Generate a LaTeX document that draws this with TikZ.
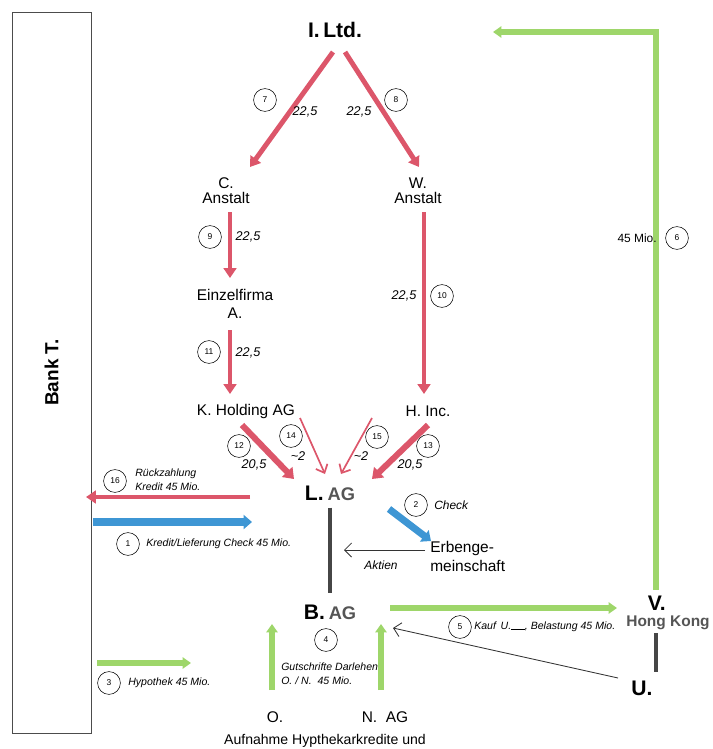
\documentclass[tikz,border=0pt]{standalone}
\usepackage{fontspec}
\setmainfont{Liberation Sans}
\usetikzlibrary{arrows.meta}
\definecolor{flowred}{RGB}{220,86,106}
\definecolor{flowblue}{RGB}{62,150,212}
\definecolor{flowgreen}{RGB}{158,214,106}
\definecolor{bargray}{RGB}{70,70,70}
\definecolor{namegray}{RGB}{85,85,85}

\begin{document}
\begin{tikzpicture}[x=0.025cm, y=-0.025cm, every node/.style={inner sep=0pt}]
% Define styles
\tikzstyle{firm} = [align=center, font=\fontsize{11}{13}\selectfont]
\tikzstyle{bigfirm} = [font=\fontsize{13.5}{15}\bfseries\selectfont]
\tikzstyle{num} = [circle, draw=black, line width=0.4pt, minimum size=0.57cm, font=\fontsize{6}{6}\selectfont]
\tikzstyle{amount} = [font=\fontsize{9}{10}\itshape\selectfont]
\tikzstyle{note} = [anchor=west, align=left, font=\fontsize{7.5}{10}\itshape\selectfont]
\tikzstyle{redflow} = [draw=flowred, line width=3.5pt, -{Triangle[length=7pt,width=9pt]}]
\tikzstyle{redthick} = [draw=flowred, line width=4.3pt, -{Triangle[length=7pt,width=10pt]}]
\tikzstyle{redthin} = [draw=flowred, line width=1.2pt, -{Straight Barb[length=5pt,width=9pt]}]
\tikzstyle{blueflow} = [draw=flowblue, line width=5pt, -{Triangle[length=6pt,width=10pt]}]
\tikzstyle{greenflow} = [draw=flowgreen, line width=3.6pt, -{Triangle[length=6pt,width=8pt]}]
\tikzstyle{thinarrow} = [draw=black!80, line width=0.6pt, -{Straight Barb[length=5pt,width=10pt]}]
\tikzstyle{bar} = [draw=bargray, line width=3.5pt]
\useasboundingbox (0,0) rectangle (712,749);
% Place nodes
\node (bank) [draw=black!70, line width=0.5pt, rotate=90, minimum width=18.025cm, minimum height=1.975cm, bigfirm] at (51.5,372.5) {Bank T.};
\node (iltd) [bigfirm, font=\fontsize{15}{16}\bfseries\selectfont] at (335,30) {I.\,Ltd.};
\node (canst) [firm, font=\fontsize{11}{10.5}\selectfont] at (226,191) {C.\\Anstalt};
\node (wanst) [firm, font=\fontsize{11}{10.5}\selectfont] at (418,191) {W.\\Anstalt};
\node (einzel) [firm] at (235,304) {Einzelfirma\\A.};
\node (kholding) [firm] at (246,411) {K. Holding AG};
\node (hinc) [firm] at (428,411) {H. Inc.};
\node (lag) at (330,493) {{\fontsize{15}{16}\bfseries L.} {\fontsize{13}{14}\bfseries\color{namegray}AG}};
\node (erbe) [firm, align=left, anchor=west, font=\fontsize{11}{13.5}\selectfont] at (430,556) {Erbenge-\\meinschaft};
\node (bag) at (330,612) {{\fontsize{15}{16}\bfseries B.} {\fontsize{13}{14}\bfseries\color{namegray}AG}};
\node (vhk) [align=center] at (668,613) {{\fontsize{15}{16}\bfseries V.}\hspace*{16pt}\\[-1pt]{\fontsize{11}{13}\bfseries\color{namegray}Hong Kong}};
\node (u) [bigfirm, font=\fontsize{15}{16}\bfseries\selectfont] at (642,688) {U.};
\node (o) [firm] at (275,717) {O.};
\node (nag) [firm] at (385,717) {N.\ \ AG};
\node (aufnahme) [firm, font=\fontsize{10}{12}\selectfont] at (325,741) {Aufnahme Hypthekarkredite und};
% Arrow ends
\coordinate (i7) at (333,52);  \coordinate (c7) at (250,167);
\coordinate (i8) at (345,52);  \coordinate (w8) at (419,167);
\coordinate (c9) at (230,212); \coordinate (e9) at (230,278);
\coordinate (e11) at (230,330); \coordinate (k11) at (230,394);
\coordinate (w10) at (424,212); \coordinate (h10) at (424,394);
\coordinate (k12) at (242,425); \coordinate (l12) at (294,479);
\coordinate (k14) at (300,418); \coordinate (l14) at (325,474);
\coordinate (h15) at (372,418); \coordinate (l15) at (341,474);
\coordinate (h13) at (428,425); \coordinate (l13) at (372,479);
\coordinate (l16) at (250,497); \coordinate (b16) at (86,497);
\coordinate (b1) at (93,522);  \coordinate (l1) at (252,522);
\coordinate (l2) at (389,509); \coordinate (e2) at (431,541);
\coordinate (e0) at (425,550); \coordinate (l0) at (344,550);
\coordinate (b5) at (390,608); \coordinate (v5) at (617,608);
\coordinate (v6) at (656,590); \coordinate (i6) at (493,32);
\coordinate (v7) at (656,633); \coordinate (u7) at (656,672);
\coordinate (u0) at (618,678); \coordinate (b0) at (393,628);
\coordinate (o4) at (272,690); \coordinate (bo4) at (272,624);
\coordinate (n4) at (381,690); \coordinate (bn4) at (381,624);
\coordinate (b3) at (97,663);  \coordinate (k3) at (191,663);
% Draw arrows
\draw [redflow] (i7) -- (c7);
\draw [redflow] (i8) -- (w8);
\draw [redflow] (c9) -- (e9);
\draw [redflow] (e11) -- (k11);
\draw [redflow] (w10) -- (h10);
\draw [redthick] (k12) -- (l12);
\draw [redthin] (k14) -- (l14);
\draw [redthin] (h15) -- (l15);
\draw [redthick] (h13) -- (l13);
\draw [redflow] (l16) -- (b16);
\draw [blueflow] (b1) -- (l1);
\draw [blueflow] (l2) -- (e2);
\draw [thinarrow] (e0) -- (l0);
\draw [bar, shorten <=5pt, shorten >=8pt] (lag) -- (bag);
\draw [bar] (v7) -- (u7);
\draw [greenflow] (b5) -- (v5);
\draw [greenflow] (v6) |- (i6);
\draw [thinarrow] (u0) -- (b0);
\draw [greenflow] (o4) -- (bo4);
\draw [greenflow] (n4) -- (bn4);
\draw [greenflow] (b3) -- (k3);
% Labels
\node [num] at (265,100) {7};   \node [amount] at (305,112) {22,5};
\node [num] at (396,100) {8};   \node [amount] at (359,112) {22,5};
\node [num] at (210,237) {9};   \node [amount] at (248,237) {22,5};
\node [num] at (209,352) {11};  \node [amount] at (248,353) {22,5};
\node [num] at (442,296) {10};  \node [amount] at (404,296) {22,5};
\node [num] at (239,446) {12};  \node [amount] at (254,465) {20,5};
\node [num] at (291,436) {14};  \node [amount] at (298,456) {\textasciitilde2};
\node [num] at (377,437) {15};  \node [amount] at (361,456) {\textasciitilde2};
\node [num] at (428,446) {13};  \node [amount] at (410,465) {20,5};
\node [num] at (115,481) {16};  \node [note] at (135,480) {Rückzahlung\\Kredit 45 Mio.};
\node [num] at (128,544) {1};   \node [note] at (146,544) {Kredit/Lieferung Check 45 Mio.};
\node [num] at (416,505) {2};   \node [note, font=\fontsize{8.5}{10}\itshape\selectfont] at (434,505) {Check};
\node [note, anchor=center, font=\fontsize{8.5}{10}\itshape\selectfont] at (381,565) {Aktien};
\node [num] at (460,627) {5};   \node [note] at (474,627) {Kauf \,U.\rule{1.3em}{0.4pt}, Belastung 45 Mio.};
\node [num] at (677,238) {6};   \node [note, anchor=east, font=\fontsize{8.5}{10}\selectfont] at (657,238) {45 Mio.};
\node [num] at (326,640) {4};   \node [note] at (281,674) {Gutschrifte Darlehen\\O. / N.\ \ 45 Mio.};
\node [num] at (109,683) {3};   \node [note] at (128,683) {Hypothek 45 Mio.};
\end{tikzpicture}
\end{document}
